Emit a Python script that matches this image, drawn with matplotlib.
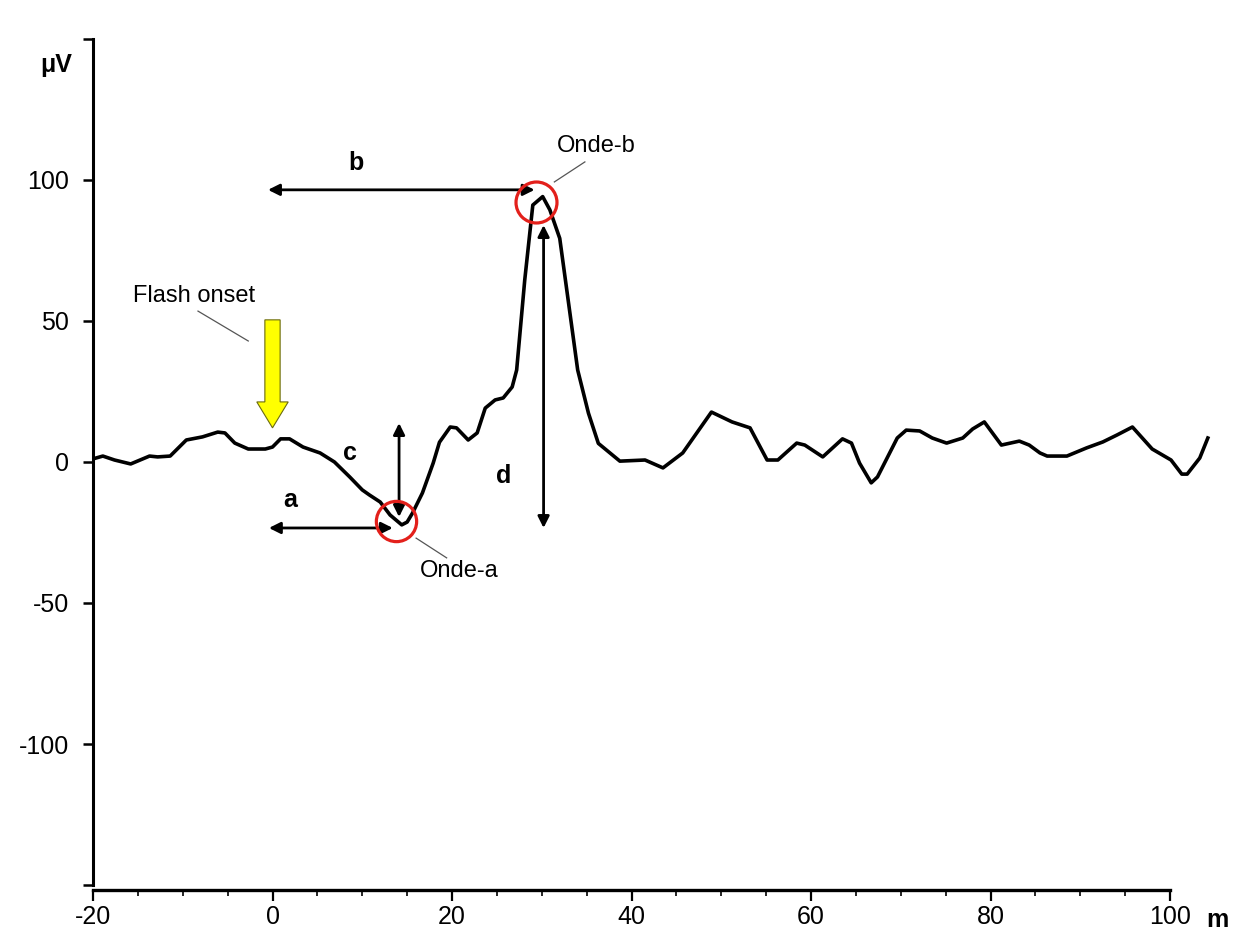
import matplotlib
matplotlib.use("Agg")
import matplotlib.pyplot as plt
from matplotlib.patches import FancyArrow
import numpy as np

plt.rcParams["font.family"] = ["Liberation Sans", "DejaVu Sans"]
plt.rcParams["axes.unicode_minus"] = False

# ERG trace: time (ms) vs amplitude (uV)
time_ms = [-20.0, -18.9, -17.6, -15.8, -13.7, -12.8, -11.4, -9.6, -7.8, -6.1,
           -5.3, -4.2, -2.7, -0.8, 0.0, 0.9, 1.9, 3.4, 5.3, 6.9,
           8.6, 10.0, 10.8, 12.0, 13.1, 14.4, 15.0, 15.6, 16.7, 17.9,
           18.6, 19.8, 20.5, 21.8, 22.8, 23.7, 24.8, 25.7, 26.7, 27.2,
           28.1, 29.0, 30.1, 30.9, 32.0, 34.0, 35.2, 36.3, 38.7, 41.5, 43.5,
           45.7, 48.9, 51.2, 53.2, 55.1, 56.3, 58.4, 59.3, 61.3, 63.5,
           64.5, 65.4, 66.7, 67.4, 69.6, 70.6, 72.1, 73.5, 75.1, 76.9,
           78.0, 79.3, 81.2, 83.2, 84.3, 85.5, 86.3, 88.5, 90.7, 92.5,
           94.1, 95.8, 98.0, 100.1, 101.3, 101.9, 103.3, 104.2]
amplitude_uv = [1.1, 2.1, 0.7, -0.7, 2.1, 1.8, 2.1, 7.8, 8.9, 10.6,
                10.3, 6.7, 4.6, 4.6, 5.3, 8.2, 8.2, 5.3, 3.2, 0.0,
                -5.3, -9.9, -11.7, -14.2, -18.8, -22.3, -21.3, -18.1, -11.0, -0.4,
                7.0, 12.4, 12.1, 7.8, 10.3, 19.1, 22.0, 22.7, 26.6, 32.6,
                64.5, 91.1, 94.1, 89.4, 79.3, 32.6, 17.3, 6.6, 0.3, 0.7, -2.1,
                3.2, 17.7, 14.2, 12.1, 0.7, 0.7, 6.7, 6.0, 1.8, 8.2,
                6.7, -0.4, -7.4, -5.3, 8.5, 11.3, 11.0, 8.5, 6.7, 8.5,
                11.7, 14.2, 6.0, 7.4, 6.0, 3.2, 2.1, 2.1, 5.0, 7.1,
                9.6, 12.4, 4.6, 0.7, -4.3, -4.3, 1.4, 8.5]

x_ticks = [-20, 0, 20, 40, 60, 80, 100]
y_ticks = [-150, -100, -50, 0, 50, 100, 150]
y_tick_labels = ["", "-100", "-50", "0", "50", "100", ""]

# wave markers
a_wave = (13.8, -20.9)
b_wave = (29.3, 92.2)

fig = plt.figure(figsize=(12.43, 9.41), dpi=100)
ax = fig.add_axes([0.0748, 0.0595, 0.9099, 0.8991])

ax.plot(time_ms, amplitude_uv, color="black", lw=2.6, solid_joinstyle="round")

ax.set_xlim(-20, 106)
ax.set_ylim(-150, 150)

for s in ["top", "right"]:
    ax.spines[s].set_visible(False)
ax.spines["left"].set_linewidth(2.2)
ax.spines["bottom"].set_linewidth(2.4)
ax.spines["left"].set_bounds(-150, 150)
ax.spines["bottom"].set_bounds(-20, 100)
ax.spines["bottom"].set_position(("outward", 3.5))

ax.set_xticks(x_ticks)
ax.set_xticks(np.arange(-20, 101, 5), minor=True)
ax.set_yticks(y_ticks)
ax.set_yticklabels(y_tick_labels)
ax.tick_params(axis="x", which="major", length=8, width=1.6, labelsize=18, pad=3)
ax.tick_params(axis="x", which="minor", length=4.5, width=1.2)
ax.tick_params(axis="y", which="major", length=7, width=1.8, labelsize=18, pad=10)

# unit labels
ax.text(-25.9, 138.3, "μV", fontsize=18, fontweight="bold", ha="left", va="baseline",
        clip_on=False)
ax.text(105.3, -164.9, "m", fontsize=18, fontweight="bold", ha="center", va="baseline",
        clip_on=False)

# flash onset arrow
ax.add_patch(FancyArrow(0.0, 50.4, 0, -38.3, width=1.7, head_width=3.5, head_length=9.2,
                        length_includes_head=True, facecolor="#ffff00",
                        edgecolor="#6b6b10", lw=0.8, zorder=3))
ax.text(-15.5, 56.7, "Flash onset", fontsize=17, ha="left", va="baseline")
ax.plot([-8.3, -2.7], [53.5, 42.9], color="#555555", lw=0.9)

# a- and b-wave circles
ax.plot(*a_wave, marker="o", ms=29, mfc="none", mec="#e3201b", mew=2.3, zorder=4)
ax.plot(*b_wave, marker="o", ms=29.5, mfc="none", mec="#e3201b", mew=2.3, zorder=4)
ax.text(16.4, -40.8, "Onde-a", fontsize=17, ha="left", va="baseline")
ax.plot([16.0, 19.4], [-27.0, -34.0], color="#555555", lw=0.9)
ax.text(31.7, 110.0, "Onde-b", fontsize=17, ha="left", va="baseline")
ax.plot([31.4, 34.8], [99.3, 106.4], color="#555555", lw=0.9)

# measurement arrows
arrow_kw = dict(arrowstyle="<|-|>", color="black", lw=2.0, mutation_scale=17,
                shrinkA=0, shrinkB=0)
ax.annotate("", xy=(13.4, -23.4), xytext=(-0.4, -23.4), arrowprops=arrow_kw)
ax.annotate("", xy=(29.2, 96.5), xytext=(-0.5, 96.5), arrowprops=arrow_kw)
ax.annotate("", xy=(14.1, -19.5), xytext=(14.1, 13.8), arrowprops=arrow_kw)
ax.annotate("", xy=(30.2, 84.0), xytext=(30.2, -23.4), arrowprops=arrow_kw)

for lbl, lx, ly in [("a", 1.2, -16.0), ("b", 8.4, 103.5), ("c", 7.8, 0.7), ("d", 24.9, -7.4)]:
    ax.text(lx, ly, lbl, fontsize=18, fontweight="bold", ha="left", va="baseline")

fig.savefig("out.png", dpi=100)
